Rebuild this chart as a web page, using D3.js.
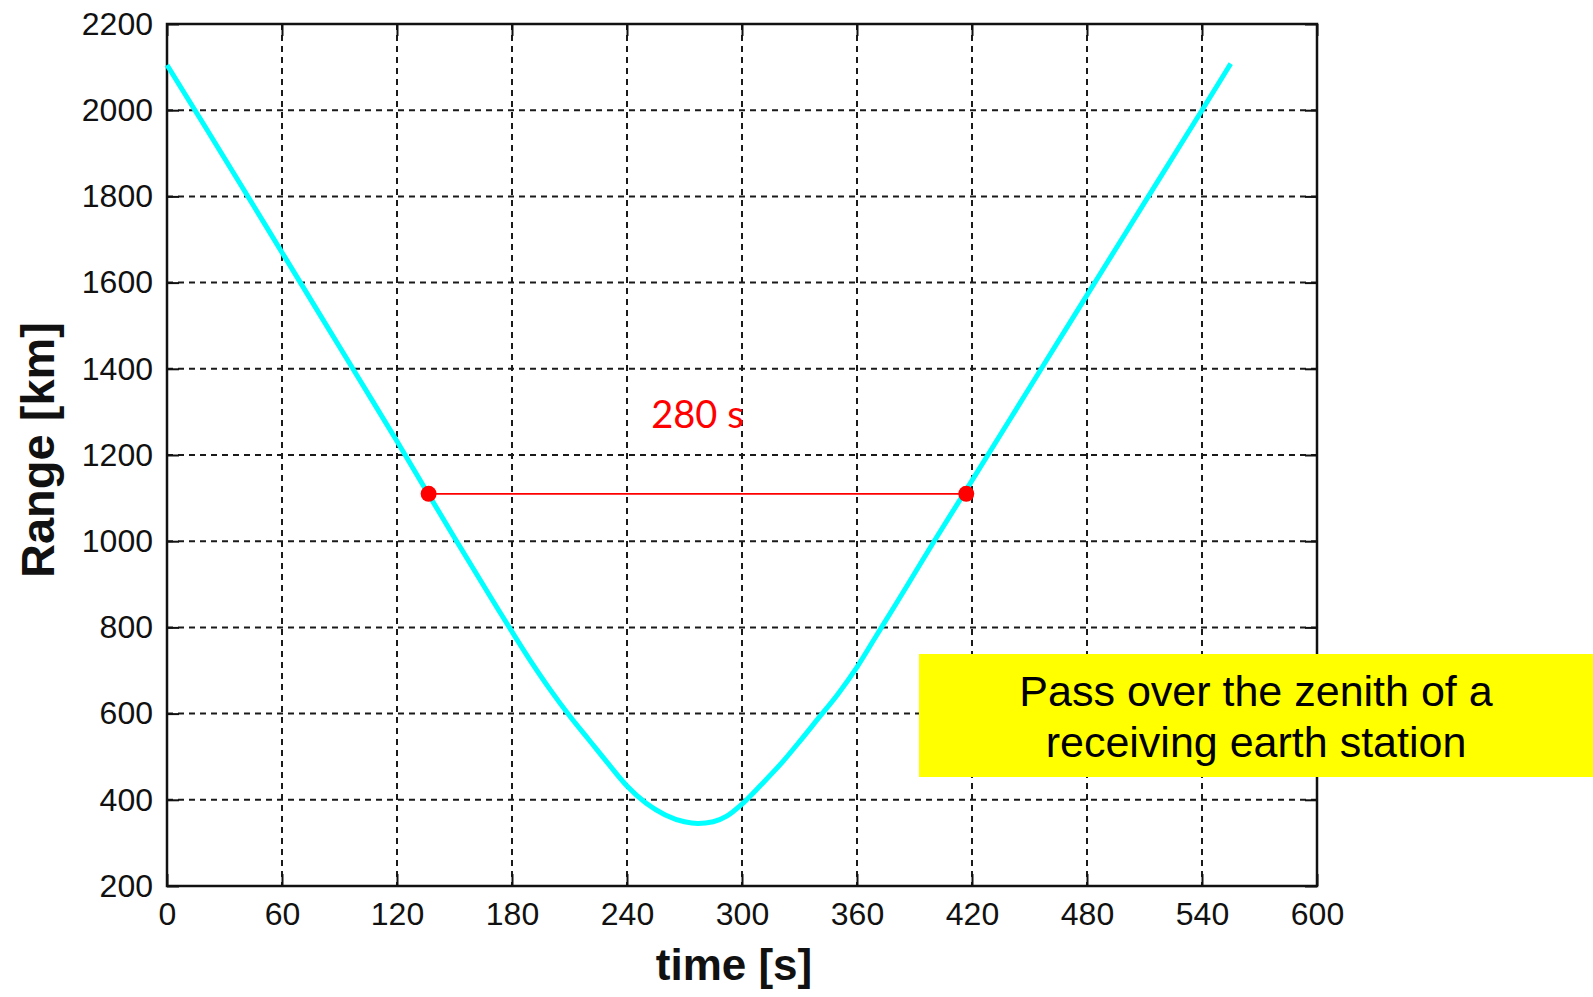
<!DOCTYPE html>
<html>
<head>
<meta charset="utf-8">
<script src="https://cdn.jsdelivr.net/npm/d3@7"></script>
<style>
  html, body { margin: 0; padding: 0; background: #ffffff; }
  svg { display: block; }
</style>
</head>
<body>
<script>
// ---- data ----
const timeS   = [0, 20, 40, 60, 80, 100, 120, 136, 150, 170, 190, 200, 210, 220, 230, 240, 250, 260, 270, 277, 285, 292, 300, 310, 320, 330, 340, 350, 360, 370, 380, 390, 400, 416, 440, 460, 480, 500, 520, 540, 555];
const rangeKm = [2105, 1961, 1816, 1670, 1524, 1378, 1232, 1112, 1008, 862, 720, 655, 595, 540, 485, 432, 392, 365, 349, 345, 349, 362, 390, 435, 482, 535, 590, 645, 708, 780, 852, 925, 998, 1112, 1284, 1428, 1571, 1714, 1857, 2000, 2108];
const xTicks = [0, 60, 120, 180, 240, 300, 360, 420, 480, 540, 600];
const yTicks = [200, 400, 600, 800, 1000, 1200, 1400, 1600, 1800, 2000, 2200];
const markerTimes = [136.5, 417];
const markerRange = 1110;
const spanLabel = "280 s";
const xTitle = "time [s]";
const yTitle = "Range [km]";
const noteLines = ["Pass over the zenith of a", "receiving earth station"];

// ---- layout ----
const W = 1593, H = 997;
const plot = { left: 167, right: 1317, top: 24, bottom: 886 };

const svg = d3.select("body").append("svg").attr("width", W).attr("height", H);

const x = d3.scaleLinear().domain([0, 600]).range([plot.left, plot.right]);
const y = d3.scaleLinear().domain([200, 2200]).range([plot.bottom, plot.top]);

const gridColor = "#1a1a1a";
const font = "'Liberation Sans', Arial, sans-serif";

// grid (dashed)
const grid = svg.append("g");
grid.selectAll("line.vx").data(xTicks.slice(1, -1)).enter().append("line")
  .attr("x1", d => x(d)).attr("x2", d => x(d))
  .attr("y1", plot.top).attr("y2", plot.bottom)
  .attr("stroke", gridColor).attr("stroke-width", 2).attr("stroke-dasharray", "6,5");
grid.selectAll("line.hy").data(yTicks.slice(1, -1)).enter().append("line")
  .attr("x1", plot.left).attr("x2", plot.right)
  .attr("y1", d => y(d)).attr("y2", d => y(d))
  .attr("stroke", gridColor).attr("stroke-width", 2).attr("stroke-dasharray", "6,5");

// axes with inward ticks on all sides
const tickLen = 12;
const bottomAxis = d3.axisBottom(x).tickValues(xTicks).tickSize(-tickLen).tickPadding(tickLen + 14).tickFormat(d3.format("d"));
const topAxis = d3.axisTop(x).tickValues(xTicks).tickSize(-tickLen).tickFormat("");
const leftAxis = d3.axisLeft(y).tickValues(yTicks).tickSize(-tickLen).tickPadding(tickLen + 14).tickFormat(d3.format("d"));
const rightAxis = d3.axisRight(y).tickValues(yTicks).tickSize(-tickLen).tickFormat("");

function styleAxis(g) {
  g.selectAll(".domain").remove();
  g.selectAll(".tick line").attr("stroke", "#111").attr("stroke-width", 2);
  g.selectAll(".tick text").attr("fill", "#111").attr("font-family", font).attr("font-size", 32);
}
const gb = svg.append("g").attr("transform", `translate(0,${plot.bottom})`).call(bottomAxis).call(styleAxis);
gb.selectAll(".tick text").attr("dy", "0.71em").attr("y", 16);
svg.append("g").attr("transform", `translate(0,${plot.top})`).call(topAxis).call(styleAxis);
const gl = svg.append("g").attr("transform", `translate(${plot.left},0)`).call(leftAxis).call(styleAxis);
gl.selectAll(".tick text").attr("x", -14);
svg.append("g").attr("transform", `translate(${plot.right},0)`).call(rightAxis).call(styleAxis);

// box
svg.append("rect")
  .attr("x", plot.left).attr("y", plot.top)
  .attr("width", plot.right - plot.left).attr("height", plot.bottom - plot.top)
  .attr("fill", "none").attr("stroke", "#111").attr("stroke-width", 2.5);

// range curve
const pts = timeS.map((t, i) => [t, rangeKm[i]]);
svg.append("path")
  .datum(pts)
  .attr("fill", "none")
  .attr("stroke", "#00FFFF")
  .attr("stroke-width", 5)
  .attr("stroke-linejoin", "round")
  .attr("d", d3.line().x(d => x(d[0])).y(d => y(d[1])).curve(d3.curveMonotoneX));

// span marker
svg.append("line")
  .attr("x1", x(markerTimes[0])).attr("x2", x(markerTimes[1]))
  .attr("y1", y(markerRange)).attr("y2", y(markerRange))
  .attr("stroke", "#ff0000").attr("stroke-width", 1.8);
svg.selectAll("circle.mk").data(markerTimes).enter().append("circle")
  .attr("cx", d => x(d)).attr("cy", y(markerRange)).attr("r", 8)
  .attr("fill", "#ff0000");
svg.append("text")
  .attr("x", x((markerTimes[0] + markerTimes[1]) / 2))
  .attr("y", y(markerRange) - 66)
  .attr("text-anchor", "middle")
  .attr("font-family", "Lato, 'Open Sans', sans-serif")
  .attr("font-size", 38)
  .attr("fill", "#ff0000")
  .text(spanLabel);

// axis titles
svg.append("text")
  .attr("x", (plot.left + plot.right) / 2 - 8)
  .attr("y", 980)
  .attr("text-anchor", "middle")
  .attr("font-family", font).attr("font-weight", "bold").attr("font-size", 44)
  .attr("fill", "#111")
  .text(xTitle);
svg.append("text")
  .attr("transform", `translate(54,450) rotate(-90)`)
  .attr("text-anchor", "middle")
  .attr("font-family", font).attr("font-weight", "bold").attr("font-size", 47)
  .attr("fill", "#111")
  .text(yTitle);

// yellow note box
const note = svg.append("g");
note.append("rect")
  .attr("x", 919).attr("y", 654).attr("width", W - 919).attr("height", 123)
  .attr("fill", "#FFFF00");
note.selectAll("text").data(noteLines).enter().append("text")
  .attr("x", (919 + W) / 2)
  .attr("y", (d, i) => 706 + i * 51)
  .attr("text-anchor", "middle")
  .attr("font-family", font).attr("font-size", 43)
  .attr("fill", "#000")
  .text(d => d);
</script>
</body>
</html>
